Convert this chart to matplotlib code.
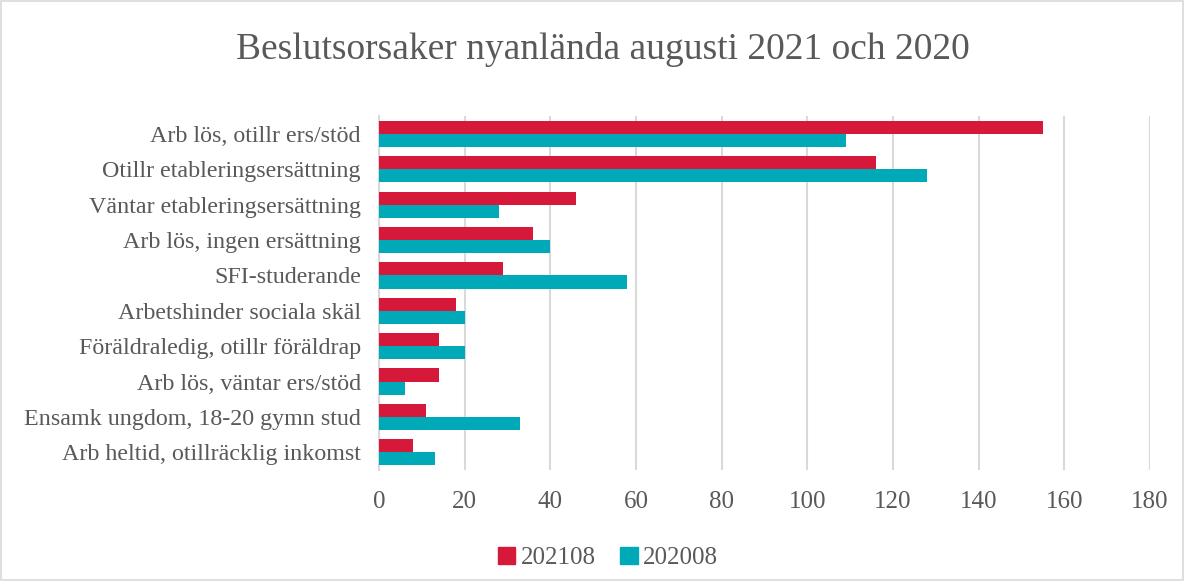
import matplotlib
matplotlib.use("Agg")
import matplotlib.pyplot as plt
from matplotlib.patches import Rectangle, Patch
import numpy as np

# Data
categories = [
    "Arb lös, otillr ers/stöd",
    "Otillr etableringsersättning",
    "Väntar etableringsersättning",
    "Arb lös, ingen ersättning",
    "SFI-studerande",
    "Arbetshinder sociala skäl",
    "Föräldraledig, otillr föräldrap",
    "Arb lös, väntar ers/stöd",
    "Ensamk ungdom, 18-20 gymn stud",
    "Arb heltid, otillräcklig inkomst",
]
v_202108 = [155, 116, 46, 36, 29, 18, 14, 14, 11, 8]
v_202008 = [109, 128, 28, 40, 58, 20, 20, 6, 33, 13]
series_names = ["202108", "202008"]
x_ticks = [0, 20, 40, 60, 80, 100, 120, 140, 160, 180]

red = "#D6193A"
teal = "#00A9B8"
txt = "#595959"
grid_c = "#D9D9D9"

plt.rcParams['font.family'] = ['Liberation Serif', 'DejaVu Serif']

fig = plt.figure(figsize=(11.85, 5.81), dpi=100, facecolor='white')
ax = fig.add_axes([0.3198, 0.191, 0.6506, 0.609])

y = np.arange(len(categories))
h = 0.37
ax.barh(y - h / 2, v_202108, height=h, color=red, label=series_names[0], zorder=3)
ax.barh(y + h / 2, v_202008, height=h, color=teal, label=series_names[1], zorder=3)

ax.set_ylim(len(categories) - 0.5, -0.5)
ax.set_xlim(0, 180)
ax.set_xticks(x_ticks)
ax.set_yticks(y)
ax.set_yticklabels(categories)

ax.tick_params(axis='x', length=0, pad=15, labelsize=18, colors=txt)
ax.tick_params(axis='y', length=0, pad=13, labelsize=17.3, colors=txt)

for s in ['top', 'right', 'bottom']:
    ax.spines[s].set_visible(False)
ax.spines['left'].set_color(grid_c)
ax.spines['left'].set_linewidth(1.5)
ax.grid(axis='x', color=grid_c, linewidth=1.5, zorder=0)
ax.set_axisbelow(True)

fig.text(0.509, 0.915, "Beslutsorsaker nyanlända augusti 2021 och 2020",
         ha='center', va='center', fontsize=27, color=txt)

handles = [Patch(color=red), Patch(color=teal)]
fig.legend(handles, series_names, loc='center', bbox_to_anchor=(0.513, 0.040),
           ncol=2, frameon=False, fontsize=18, labelcolor=txt,
           handlelength=0.7, handleheight=0.7, handletextpad=0.2, columnspacing=1.0)

# figure border
fig.patches.append(Rectangle((0.001, 0.002), 0.997, 0.996, transform=fig.transFigure,
                             fill=False, edgecolor=grid_c, linewidth=1.2))

fig.savefig("out.png", dpi=100, facecolor='white')
